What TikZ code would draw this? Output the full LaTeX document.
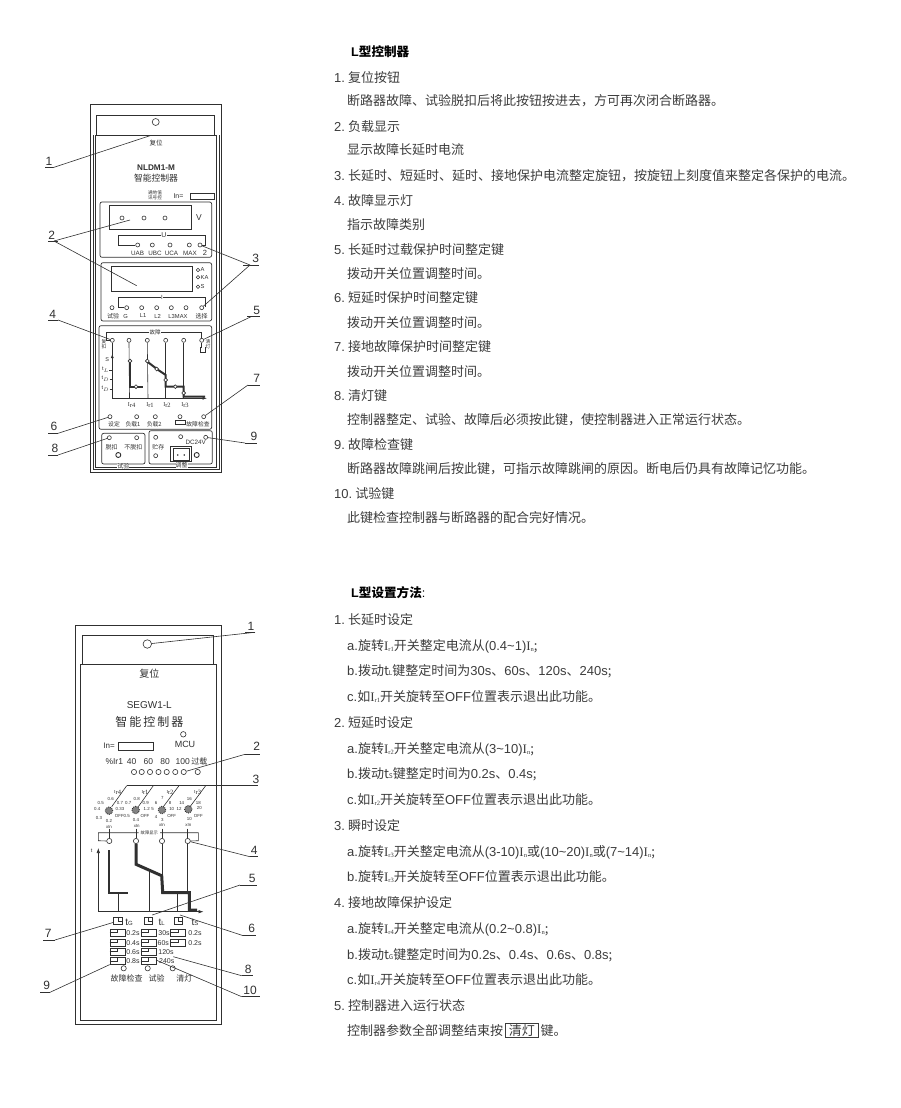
\documentclass[tikz,border=0pt]{standalone}
\usepackage{fontspec}
\usepackage{xcolor}
\usepackage{tikz}
\usetikzlibrary{arrows.meta}
\setmainfont{Noto Sans CJK SC}
\newfontfamily\latn{Liberation Sans}
\newfontfamily\serf{Liberation Serif}
\newcommand{\tild}{\char"7E }
\newcommand{\zhc}{\char"FF0C }
\newcommand{\Ic}[1]{{\serf I\raisebox{-1pt}{\fontsize{6.5}{6.5}\selectfont #1}}}
\definecolor{ink}{HTML}{303030}
\definecolor{txtgray}{HTML}{3c3c3c}
\tikzset{
	txtline/.style={anchor=west,inner sep=0pt,text=txtgray,text height=10pt,text depth=2pt,font=\fontsize{13}{14}\selectfont},
	lab/.style={inner sep=0pt,text=ink,font=\fontsize{#1}{#1}\selectfont},
	latlab/.style={inner sep=0pt,text=ink,font=\latn\fontsize{#1}{#1}\selectfont},
	callnum/.style={inner sep=0pt,text=ink,font=\latn\fontsize{12}{12}\selectfont},
	led/.style={circle,draw=ink,line width=.6pt,inner sep=0pt,minimum size=#1,fill=white},
	led/.default=4.5pt,
	wire/.style={draw=ink,line width=.6pt},
	heavy/.style={draw=ink,line width=#1,line join=miter},
	panel/.style={draw=ink,line width=.7pt,rounded corners=2pt},
	dial/.style={circle,draw=ink,densely dotted,line width=.9pt,fill=ink!60,inner sep=0pt,minimum size=7.5pt},
	swbox/.style={draw=ink,line width=.7pt,inner sep=0pt,minimum width=15pt,minimum height=6.5pt},
	keybox/.style={draw=ink,line width=.7pt,inner sep=0pt,minimum width=8.5pt,minimum height=7.5pt},
}
\begin{document}
\begin{tikzpicture}[x=1pt,y=-1pt]
	\useasboundingbox (0,0) rectangle (900,1108);
	
	% First panel - housing
	\draw[wire,line width=.8pt] (90.7,104) rectangle (221.7,472.6);
	\draw[wire] (93.3,135) -- (93.3,469.5) -- (219,469.5) -- (219,135);
	\draw[wire,line width=.8pt] (96.7,135) -- (96.7,115.7) -- (214,115.7) -- (214,135);
	\draw[wire,line width=1pt] (95.7,135) -- (216.7,135);
	\draw[wire] (95.7,135) -- (95.7,467) -- (216.7,467) -- (216.7,135);
	\node[led=7pt] (resetA) at (155.7,122) {};
	\node[lab=6.5] (resetAt) at (156,143) {复位};
	\node[latlab=8.2,font=\latn\bfseries\fontsize{8.2}{8.2}\selectfont] (nameA) at (156,168) {NLDM1-M};
	\node[lab=8.8] (nameB) at (156,178) {智能控制器};
	\node[lab=4.6,align=center] (sigA) at (155,195.5) {通地值\\讯号控};
	\node[latlab=7] (inA) at (178.5,196) {In=};
	\node[draw=ink,line width=.6pt,inner sep=0pt,minimum width=24pt,minimum height=6pt] (inboxA) at (202,196) {};
	
	% Voltage panel
	\draw[panel] (100,202) rectangle (211.7,257.3);
	\draw[wire,line width=.7pt] (109.3,205) rectangle (191,229);
	\foreach \x [count=\i] in {122,144,165} {
		\node[led=4pt] (vd\i) at (\x,218) {};
	}
	\node[latlab=8.5] (vlbl) at (199,218) {V};
	\foreach \x [count=\i] in {137.7,152.3,170,189.3,200} {
		\node[led=4pt] (ud\i) at (\x,245) {};
	}
	\node[latlab=7] (ulbl) at (164,235.5) {U};
	\draw[wire] (ulbl.west) -| (118,245) -- (ud1.west);
	\draw[wire] (ulbl.east) -| (205,245) -- (ud5.east);
	\foreach \x/\s [count=\i] in {137.5/UAB,155/UBC,171.5/UCA,190/MAX} {
		\node[latlab=6.3] (uu\i) at (\x,253) {\s};
	}
	\node[latlab=7.5] (utwo) at (205,253) {2};
	
	% Current panel
	\draw[panel] (101,262.7) rectangle (211.7,321);
	\draw[wire,line width=.7pt] (111.7,266) rectangle (192.3,291.7);
	\foreach \y/\s [count=\i] in {270/A,277.3/KA,286.7/S} {
		\node[led=3.5pt] (ad\i) at (198,\y) {};
		\node[latlab=5.8,anchor=west] (al\i) at (200.5,\y) {\s};
	}
	\foreach \x [count=\i] in {112,126.7,141.7,156.7,171.3,186,201.7} {
		\node[led=4pt] (id\i) at (\x,307.7) {};
	}
	\node[latlab=6] (ilbl) at (162,297.3) {I};
	\draw[wire] (ilbl.west) -| (118.3,307.7) -- (id2.west);
	\draw[wire] (ilbl.east) -| (205,307);
	\foreach \x/\s [count=\i] in {113/试验,201.7/选择} {
		\node[lab=6] (ic\i) at (\x,316) {\s};
	}
	\foreach \x/\s [count=\i] in {125.7/G,143/L1,157.7/L2,178/L3MAX} {
		\node[latlab=5.8] (il\i) at (\x,316) {\s};
	}
	
	% Fault panel
	\draw[panel] (99,325.7) rectangle (211.7,429.3);
	\foreach \x [count=\i] in {112.3,129,147.3,165.7,183.7,201.7} {
		\node[led=4pt] (fd\i) at (\x,340.3) {};
	}
	\node[lab=5.5] (flbl) at (155,332.3) {故障};
	\draw[wire] (flbl.west) -- (106.3,332.3) |- (fd1.west);
	\draw[wire] (flbl.east) -| (fd6.north);
	\node[lab=4.8,align=center] (fl) at (104,344) {复\\扣};
	\node[lab=4.8,align=center] (fr) at (208,344) {清\\灯};
	\draw[wire] (fd1.south) -- (112.3,398.3);
	\draw[wire,-{Latex[length=4pt,width=3pt]}] (112.3,362) -- (112.3,354);
	\draw[wire] (fd6.south) -- (201.7,347) -- (200,347) -- (200,352) -- (205,352) -- (205,347);
	\draw[wire,-{Latex[length=4.5pt,width=3pt]}] (112.3,398.3) -- (207,398.3);
	\foreach \i/\x in {2/129.5,3/148,4/165.7,5/183.7} {
		\draw[wire] (fd\i.south) -- (\x,398.3);
	}
	\node[latlab=5.5] (fs) at (107.3,359.3) {S};
	\foreach \y/\s [count=\i] in {370/t$_{\scriptscriptstyle L}$,379/t$_{\scriptscriptstyle D}$,389/t$_{\scriptscriptstyle D}$} {
		\node[latlab=5.5] (ft\i) at (105.5,\y) {\s};
		\draw[wire] (ft\i.east) -- (112.3,\y);
	}
	\draw[heavy=2pt] (130,361) -- (130,386.7) -- (142.7,386.7);
	\draw[heavy=2pt] (147.3,361.7) -- (158.3,370) -- (165.7,375) -- (165.7,386.7) -- (183.7,386.7) -- (183.7,396.7) -- (205,396.7);
	\foreach \x/\y [count=\i] in {130/361,136/386.7,147.3/361,156.7/369,165.7/380,175.3/386.7,183.7/393} {
		\node[led=3.8pt] (fp\i) at (\x,\y) {};
	}
	\foreach \x/\s [count=\i] in {131.7/r4,150/r1,167/r2,185/r3} {
		\node[lab=6,text=ink] (fi\i) at (\x,405) {\Ic{\s}};
	}
	\foreach \x [count=\i] in {110,136.7,155.3,180,203.7} {
		\node[led=4pt] (sd\i) at (\x,416.7) {};
	}
	\foreach \x/\s [count=\i] in {114/设定,133/负载1,154.3/负载2,198/故障检查} {
		\node[lab=5.8] (sl\i) at (\x,424.3) {\s};
	}
	\draw[wire,line width=.7pt] (175.7,420.7) rectangle (185.7,424.3);
	
	% Bottom keys
	\draw[panel] (101.7,433.3) rectangle (145,464);
	\draw[panel] (149,430.7) rectangle (212.3,464);
	\node[led=4pt] (ka) at (109.3,437.7) {};
	\node[led=4pt] (kb) at (136.7,437.7) {};
	\node[lab=6] (kal) at (111.7,447.7) {脱扣};
	\node[lab=6] (kbl) at (133.3,447.7) {不脱扣};
	\node[led=5pt,line width=.9pt] (kc) at (118.3,455) {};
	\node[lab=6,fill=white] (kcl) at (123.3,466.3) {试验};
	\node[led=4pt] (kd) at (155.7,437.3) {};
	\node[lab=6] (kdl) at (158.3,447.3) {贮存};
	\node[led=4pt] (ke) at (155.7,455.7) {};
	\node[led=4pt] (kf) at (180.7,436.7) {};
	\node[led=4pt] (kg) at (205.7,437.3) {};
	\node[latlab=6.3] (dcl) at (195.7,442.7) {DC24V};
	\draw[wire,line width=.7pt] (170,446) rectangle (191.7,461.7);
	\draw[wire] (173.3,448.3) rectangle (189.3,460);
	\fill[ink] (177.7,455) circle (.9) (184.3,455) circle (.9);
	\node[led=5pt,line width=.9pt] (kh) at (196.7,455) {};
	\node[lab=6,fill=white] (kil) at (181.7,465.7) {调整};
	
	% First panel - callouts
	\foreach \n/\x/\y/\a/\b/\u [count=\i] in {1/49/161.5/45/52.7/167.7,2/51.7/235/48.3/58.3/241,3/255.7/258/243/259/265,4/52.7/314.3/48/58/320,5/256.7/310/247/260/316.7,6/54/426.7/48/58/433.3,7/256.7/378/248/260/385,8/55/448/48/58/455,9/254/436.7/245/256.7/443} {
		\node[callnum] (ca\i) at (\x,\y) {\n};
		\coordinate (cal\i) at (\a,\u);
		\coordinate (car\i) at (\b,\u);
		\draw[wire] (cal\i) -- (car\i);
	}
	\coordinate (tgtAa) at (150,135.7);
	\coordinate (tgtAb) at (130,220);
	\coordinate (tgtAc) at (136.7,285.7);
	\coordinate (cab2) at (54,241);
	\coordinate (cab3) at (250,265);
	\coordinate (cab5) at (251,316.7);
	\draw[wire] (car1) -- (tgtAa);
	\draw[wire] (cab2) -- (tgtAb);
	\draw[wire] (cab2) -- (tgtAc);
	\draw[wire] (cab3) -- (ud5);
	\draw[wire] (cab3) -- (id7);
	\draw[wire] (car4) -- (fd1);
	\draw[wire] (cab5) -- (fd6);
	\draw[wire] (car6) -- (sd1);
	\draw[wire] (cal7) -- (sd5);
	\draw[wire] (car8) -- (ka);
	\draw[wire] (cal9) -- (kg);
	
	% Second panel - housing
	\draw[wire,line width=.8pt] (75.7,625) rectangle (221.7,1024.3);
	\draw[wire] (80,664.3) -- (80,1020) -- (216.7,1020) -- (216.7,664.3);
	\draw[wire,line width=.8pt] (82.7,664.3) -- (82.7,635) -- (213.3,635) -- (213.3,664.3);
	\draw[wire] (80,664.3) -- (216.7,664.3);
	\node[led=8.5pt] (resetB) at (147.3,644) {};
	\node[lab=10] (resetBt) at (149.3,673.3) {复位};
	\node[latlab=10] (nameC) at (149.3,705) {SEGW1-L};
	\node[lab=12] (nameD) at (149.3,721.7) {智\,能\,控\,制\,器};
	\node[led=5.5pt] (mcu) at (183.3,734.3) {};
	\node[latlab=9] (mcul) at (185,744) {MCU};
	\node[latlab=8] (inB) at (109,746) {In=};
	\node[draw=ink,line width=.6pt,inner sep=0pt,minimum width=35pt,minimum height=7.3pt] (inboxB) at (135.8,746.3) {};
	\foreach \x/\s [count=\i] in {114.3/\%Ir1,131.7/40,148.3/60,165/80,182.7/100} {
		\node[latlab=8.5] (pc\i) at (\x,761.7) {\s};
	}
	\node[lab=8] (pcv) at (199.3,761.7) {过载};
	\foreach \x [count=\i] in {134,141.7,150,158.5,166.7,175.3,183.7,197.7} {
		\node[led=5.2pt] (ld\i) at (\x,772) {};
	}
	
	% Rotary dials
	\foreach \x/\y [count=\i] in {109/810.7,135.7/810,162/810,188.3/809.3} {
		\node[dial] (dl\i) at (\x,\y) {};
	}
	\foreach \x/\y/\s [count=\i] in {100.7/802.7/0.5,110.7/799/0.6,120/802.7/0.7,97.3/809.3/0.4,99/817.7/0.3,109/821/0.2,109/826.7/xIn,120/809.3/0.33,119.3/816/OFF,128.3/802.7/0.7,136.7/799/0.8,145.7/802.7/0.9,146.7/809.3/1.2,145/816/OFF,126.7/816/0.5,136/820/0.4,136.7/826/xIn,156/802.7/6,162.3/798.3/7,170/802.7/8,152.7/809/5,171.7/809/10,156/816.7/4,162.3/820/3,162/825/xIn,171.7/816/OFF,181.7/802.7/14,189.3/799/16,198.3/802.7/18,179/809/12,199.3/808.3/20,189.3/818.7/10,188.3/825/xIn,198.3/816/OFF} {
		\node[latlab=4.4] (dt\i) at (\x,\y) {\s};
	}
	\foreach \x/\s [count=\i] in {117.7/r4,145/r1,170/r2,197.7/r3} {
		\node[lab=4.5] (dn\i) at (\x,792) {\Ic{\s}};
	}
	\coordinate (callb3l) at (126.7,785.7);
	\coordinate (callb3r) at (258,785.7);
	\draw[wire] (callb3l) -- (callb3r);
	\foreach \i/\x/\tx in {1/126.7/111.7,2/153.3/138.3,3/179/163.3,4/205.7/190} {
		\coordinate (slt\i) at (\x,785.7);
		\coordinate (slb\i) at (\tx,806.7);
		\draw[wire] (slt\i) -- (slb\i);
	}
	
	% Fault indicators
	\foreach \x [count=\i] in {109.3,136,162,187.7} {
		\node[led=5.2pt] (gd\i) at (\x,841) {};
		\coordinate (gs\i) at (\x,828.5);
		\draw[wire] (gs\i) -- (gd\i.north);
	}
	\node[lab=4.3,fill=white,inner xsep=2pt] (gl) at (149.3,832.7) {故障显示};
	\draw[wire] (gl.west) -| (98.3,840.7) -- (gd1.west);
	\draw[wire] (gl.east) -| (198.3,840.7) -- (gd4.east);
	\draw[wire,{Latex[length=5pt,width=3.5pt]}-{Latex[length=5pt,width=3.5pt]}] (98.3,848) -- (98.3,911.7) -- (203.5,911.7);
	\node[latlab=5.5] (tl) at (91.7,851) {t};
	\draw[heavy=2pt] (109.3,850) -- (109.3,893.3) -- (128.3,893.3);
	\draw[heavy=3pt] (gd2.south) -- (136,864.3) -- (161.7,875.7) -- (162.7,892.7) -- (189.3,892.7) -- (189.3,910) -- (197,910);
	\draw[wire] (118.7,893.3) -- (118.7,911.7);
	\draw[wire] (149.3,870) -- (149.3,911.7);
	\draw[wire] (gd3.south) -- (162,875);
	\draw[wire] (177.7,893) -- (177.7,911.7);
	\draw[wire] (gd4.south) -- (187.7,892);
	
	% Time switches
	\foreach \x [count=\i] in {118,148.2,178.3} {
		\node[keybox] (tk\i) at (\x,921) {};
		\draw[wire] (tk\i.north) -- (tk\i.center) -- (tk\i.east);
	}
	\foreach \x/\s [count=\i] in {129/G,161.7/L,195/S} {
		\node[latlab=10] (tkl\i) at (\x,922.7) {t{\fontsize{6}{6}\selectfont\s}};
	}
	\foreach \x/\y/\lx/\s [count=\i] in {117.5/932.7/133/0.2s,117.5/942.7/133/0.4s,117.5/951.7/133/0.6s,117.5/961/133/0.8s,148.5/932.7/164/30s,148.5/942.7/163.3/60s,148.5/951.7/166/120s,148.5/961/166.7/240s,178.2/932.7/195/0.2s,178.2/942.7/195/0.2s} {
		\node[swbox] (sw\i) at (\x,\y) {};
		\draw[wire] (sw\i.west) -- (sw\i.center) -- ++(0,-3.2);
		\node[latlab=7] (sn\i) at (\lx,\y) {\s};
	}
	\foreach \x [count=\i] in {123.7,147.7,172.7} {
		\node[led=5.2pt] (kr\i) at (\x,968.3) {};
	}
	\foreach \x/\s [count=\i] in {126.7/故障检查,156.7/试验,184.3/清灯} {
		\node[lab=8] (krl\i) at (\x,978.3) {\s};
	}
	
	% Second panel - callouts
	\foreach \n/\x/\y/\a/\b/\u [count=\i] in {1/251/626.7/245/255/632.3,2/256.7/746.7/245/260/754.3,3/256/779.3/245/258/785.7,4/254.3/850/250/258.3/856.7,5/252.3/878.3/240/256.7/885,6/251.7/928.3/243.3/256/935.7,7/48.3/933.3/43.3/55/940,8/248.3/969/241.7/252.7/975.7,9/46.7/985.7/40/50/992.3,10/250/990/241.7/260/996.7} {
		\node[callnum] (cb\i) at (\x,\y) {\n};
		\coordinate (cbl\i) at (\a,\u);
		\coordinate (cbr\i) at (\b,\u);
		\ifnum\i=3\else\draw[wire] (cbl\i) -- (cbr\i);\fi
	}
	\coordinate (tgtBa) at (152.3,915);
	\coordinate (tgtBb) at (180,915);
	\coordinate (tgtBc) at (173.3,956.7);
	\coordinate (tgtBd) at (156,960);
	\draw[wire] (cbr1) -- (resetB);
	\draw[wire] (cbl2) -- (ld7);
	\draw[wire] (cbl4) -- (gd4);
	\draw[wire] (cbl5) -- (tgtBa);
	\draw[wire] (cbl6) -- (tgtBb);
	\draw[wire] (cbr7) -- (tk1);
	\draw[wire] (cbl8) -- (tgtBc);
	\draw[wire] (cbr9) -- (sw4);
	\draw[wire] (cbl10) -- (tgtBd);
	
	% Right column - first text
	\node[txtline,text=black,font=\bfseries\fontsize{12.6}{14}\selectfont] (headA) at (351,53) {{\latn L}型控制器};
	\foreach \y/\n/\txt [count=\i] in {78/1/复位按钮,127/2/负载显示,176/3/长延时、短延时、延时、接地保护电流整定旋钮\zhc 按旋钮上刻度值来整定各保护的电流。,201/4/故障显示灯,250/5/长延时过载保护时间整定键,298/6/短延时保护时间整定键,347/7/接地故障保护时间整定键,396/8/清灯键,445/9/故障检查键,494/10/试验键} {
		\node[txtline] (ta\i) at (334,\y) {{\latn\n.\hspace{3pt}}\txt};
	}
	\foreach \y/\txt [count=\i] in {101/断路器故障、试验脱扣后将此按钮按进去\zhc 方可再次闭合断路器。,150/显示故障长延时电流,225/指示故障类别,274/拨动开关位置调整时间。,323/拨动开关位置调整时间。,372/拨动开关位置调整时间。,420/控制器整定、试验、故障后必须按此键\zhc 使控制器进入正常运行状态。,469/断路器故障跳闸后按此键\zhc 可指示故障跳闸的原因。断电后仍具有故障记忆功能。,518/此键检查控制器与断路器的配合完好情况。} {
		\node[txtline] (tb\i) at (347,\y) {\txt};
	}
	
	% Right column - second text
	\node[txtline,text=black,font=\bfseries\fontsize{12.6}{14}\selectfont] (headB) at (351,593) {{\latn L}型设置方法{\mdseries\latn :}};
	\foreach \y/\n/\txt [count=\i] in {620/1/长延时设定,723/2/短延时设定,826/3/瞬时设定,903/4/接地故障保护设定,1006/5/控制器进入运行状态} {
		\node[txtline] (tc\i) at (334,\y) {{\latn\n.\hspace{3pt}}\txt};
	}
	\foreach \y/\txt [count=\i] in {
		646/{{\latn a.}旋转\Ic{r1}开关整定电流从{\latn(0.4\tild1)}\Ic{n};},
		671/{{\latn b.}拨动t{\fontsize{6.5}{6.5}\selectfont L}键整定时间为{\latn 30s}、{\latn 60s}、{\latn 120s}、{\latn 240s};},
		697/{{\latn c.}如\Ic{r1}开关旋转至{\latn OFF}位置表示退出此功能。},
		749/{{\latn a.}旋转\Ic{r2}开关整定电流从{\latn(3\tild10)}\Ic{n};},
		774/{{\latn b.}拨动t{\fontsize{6.5}{6.5}\selectfont S}键整定时间为{\latn 0.2s}、{\latn 0.4s};},
		800/{{\latn c.}如\Ic{r2}开关旋转至{\latn OFF}位置表示退出此功能。},
		852/{{\latn a.}旋转\Ic{r3}开关整定电流从{\latn(3-10)}\Ic{n}或{\latn(10\tild20)}\Ic{n}或{\latn(7\tild14)}\Ic{n};},
		877/{{\latn b.}旋转\Ic{r3}开关旋转至{\latn OFF}位置表示退出此功能。},
		929/{{\latn a.}旋转\Ic{r4}开关整定电流从{\latn(0.2\tild0.8)}\Ic{n};},
		955/{{\latn b.}拨动t{\fontsize{6.5}{6.5}\selectfont G}键整定时间为{\latn 0.2s}、{\latn 0.4s}、{\latn 0.6s}、{\latn 0.8s};},
		980/{{\latn c.}如\Ic{r4}开关旋转至{\latn OFF}位置表示退出此功能。},
		1031/{控制器参数全部调整结束按\,\setlength{\fboxsep}{1pt}\fbox{\,清灯\,}\,键。}} {
		\node[txtline] (td\i) at (347,\y) {\txt};
	}
\end{tikzpicture}
\end{document}
